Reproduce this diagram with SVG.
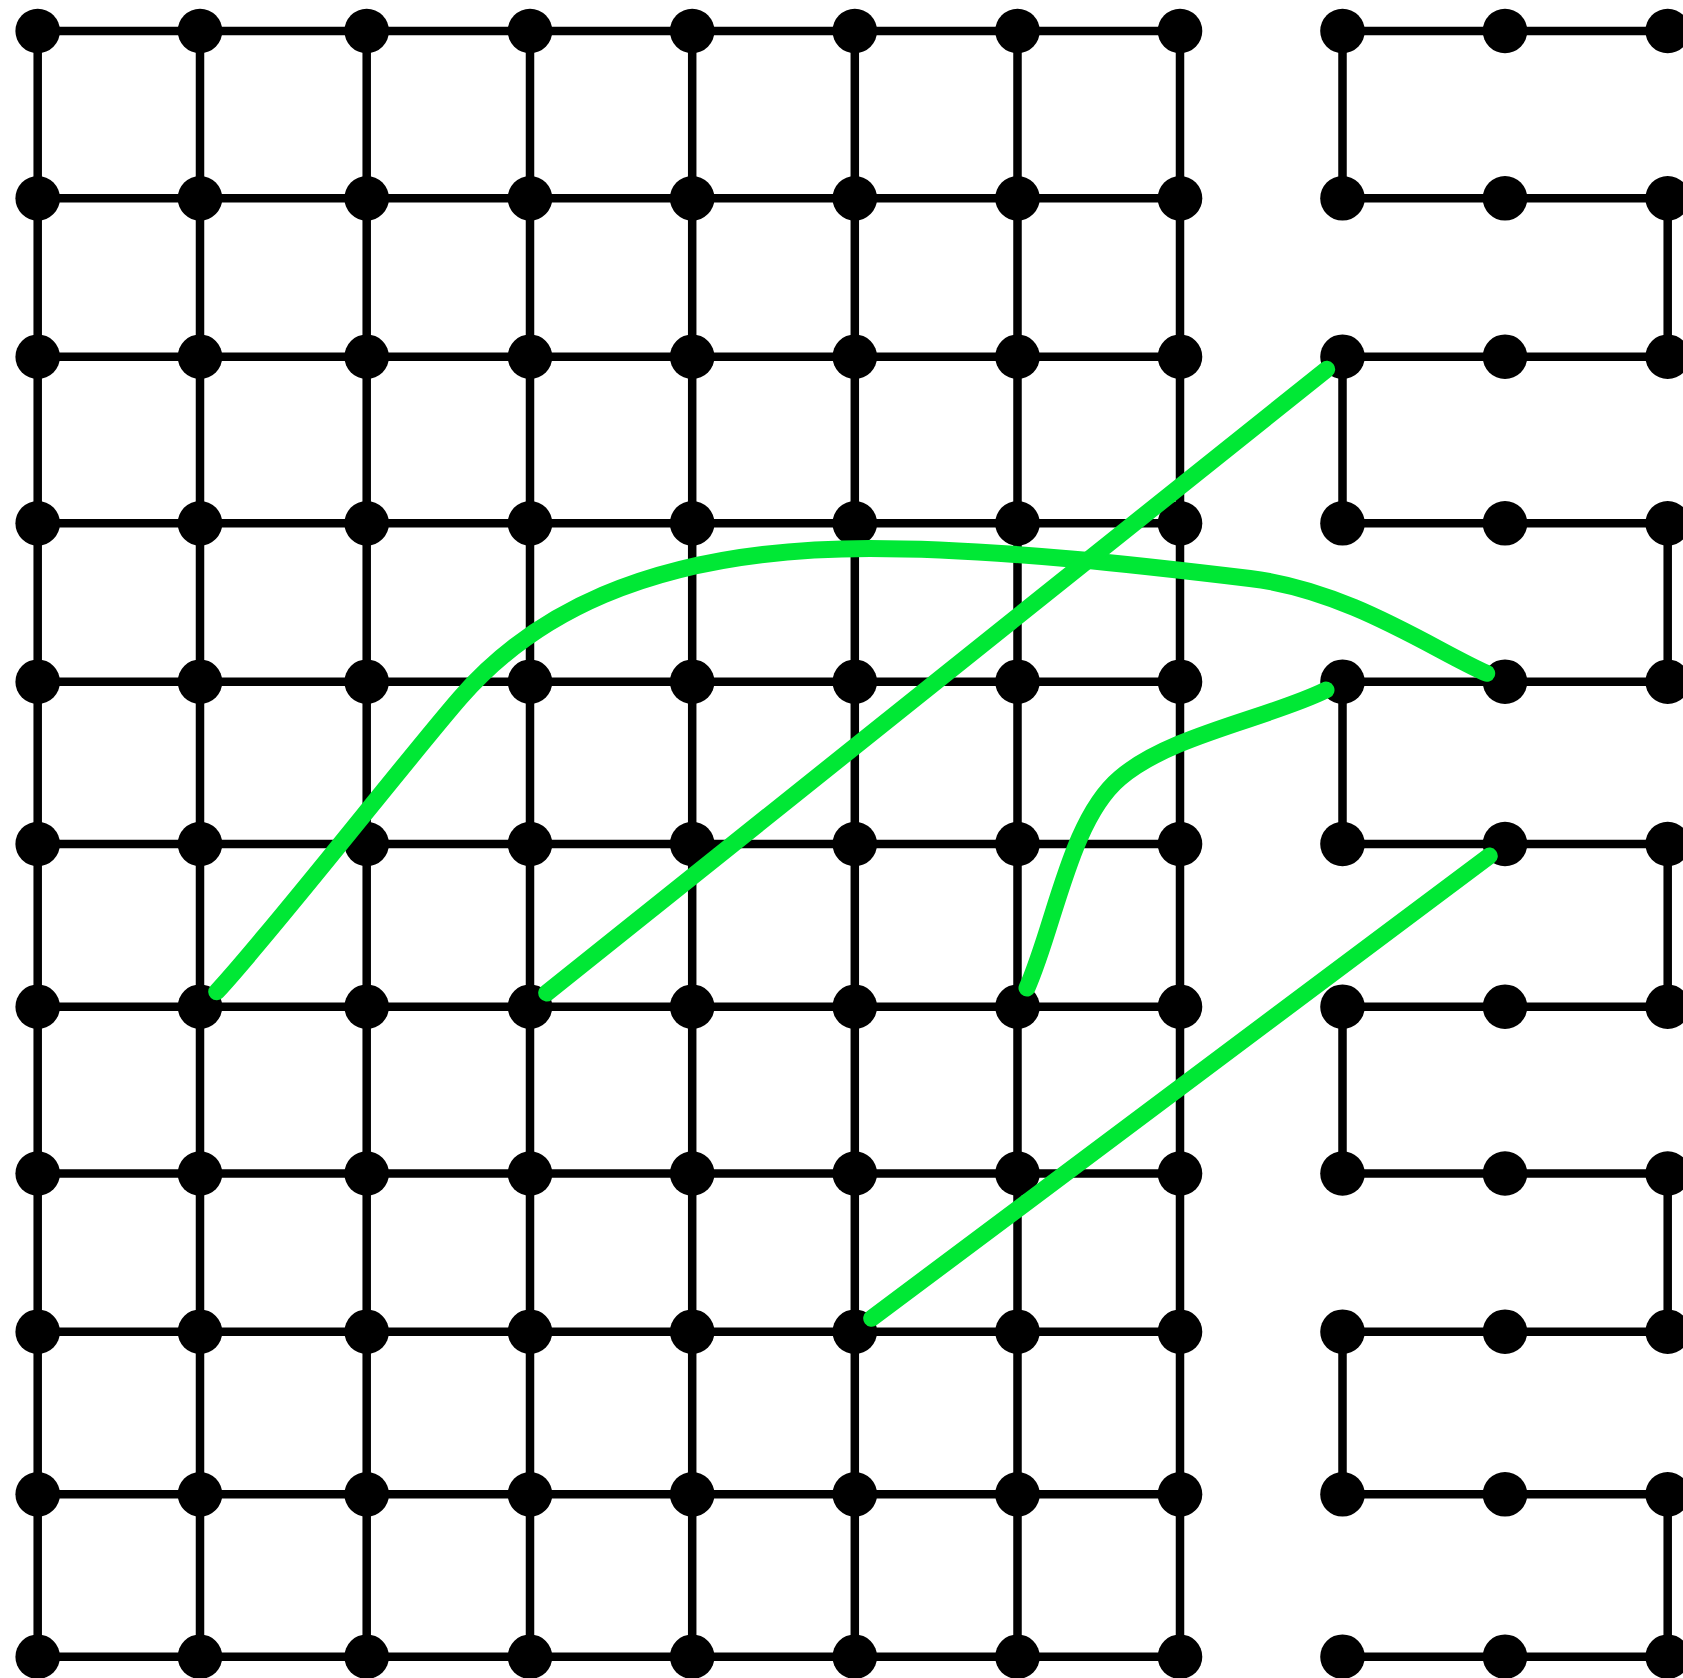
<svg xmlns="http://www.w3.org/2000/svg" width="1683" height="1678" viewBox="0 0 1683 1678">
<style>
.e{stroke:#000;stroke-width:8.5;fill:none}
.n{fill:#000}
.g{stroke:#00e835;stroke-width:17;fill:none;stroke-linecap:round;stroke-linejoin:round}
</style>
<rect width="1683" height="1678" fill="#fff"/>
<g id="connectors">
<g id="grid-edges" class="e">
<path d="M37.7 31H200M200 31H366.7M366.7 31H530M530 31H692.2M692.2 31H854.8M854.8 31H1017.5M1017.5 31H1180M1342.5 31H1505M1505 31H1667.7"/>
<path d="M37.7 198.3H200M200 198.3H366.7M366.7 198.3H530M530 198.3H692.2M692.2 198.3H854.8M854.8 198.3H1017.5M1017.5 198.3H1180M1342.5 198.3H1505M1505 198.3H1667.7"/>
<path d="M37.7 356.7H200M200 356.7H366.7M366.7 356.7H530M530 356.7H692.2M692.2 356.7H854.8M854.8 356.7H1017.5M1017.5 356.7H1180M1342.5 356.7H1505M1505 356.7H1667.7"/>
<path d="M37.7 523.3H200M200 523.3H366.7M366.7 523.3H530M530 523.3H692.2M692.2 523.3H854.8M854.8 523.3H1017.5M1017.5 523.3H1180M1342.5 523.3H1505M1505 523.3H1667.7"/>
<path d="M37.7 681.7H200M200 681.7H366.7M366.7 681.7H530M530 681.7H692.2M692.2 681.7H854.8M854.8 681.7H1017.5M1017.5 681.7H1180M1342.5 681.7H1505M1505 681.7H1667.7"/>
<path d="M37.7 844H200M200 844H366.7M366.7 844H530M530 844H692.2M692.2 844H854.8M854.8 844H1017.5M1017.5 844H1180M1342.5 844H1505M1505 844H1667.7"/>
<path d="M37.7 1006.7H200M200 1006.7H366.7M366.7 1006.7H530M530 1006.7H692.2M692.2 1006.7H854.8M854.8 1006.7H1017.5M1017.5 1006.7H1180M1342.5 1006.7H1505M1505 1006.7H1667.7"/>
<path d="M37.7 1173.5H200M200 1173.5H366.7M366.7 1173.5H530M530 1173.5H692.2M692.2 1173.5H854.8M854.8 1173.5H1017.5M1017.5 1173.5H1180M1342.5 1173.5H1505M1505 1173.5H1667.7"/>
<path d="M37.7 1331.7H200M200 1331.7H366.7M366.7 1331.7H530M530 1331.7H692.2M692.2 1331.7H854.8M854.8 1331.7H1017.5M1017.5 1331.7H1180M1342.5 1331.7H1505M1505 1331.7H1667.7"/>
<path d="M37.7 1494.3H200M200 1494.3H366.7M366.7 1494.3H530M530 1494.3H692.2M692.2 1494.3H854.8M854.8 1494.3H1017.5M1017.5 1494.3H1180M1342.5 1494.3H1505M1505 1494.3H1667.7"/>
<path d="M37.7 1656.7H200M200 1656.7H366.7M366.7 1656.7H530M530 1656.7H692.2M692.2 1656.7H854.8M854.8 1656.7H1017.5M1017.5 1656.7H1180M1342.5 1656.7H1505M1505 1656.7H1667.7"/>
<path d="M37.7 31V198.3M37.7 198.3V356.7M37.7 356.7V523.3M37.7 523.3V681.7M37.7 681.7V844M37.7 844V1006.7M37.7 1006.7V1173.5M37.7 1173.5V1331.7M37.7 1331.7V1494.3M37.7 1494.3V1656.7"/>
<path d="M200 31V198.3M200 198.3V356.7M200 356.7V523.3M200 523.3V681.7M200 681.7V844M200 844V1006.7M200 1006.7V1173.5M200 1173.5V1331.7M200 1331.7V1494.3M200 1494.3V1656.7"/>
<path d="M366.7 31V198.3M366.7 198.3V356.7M366.7 356.7V523.3M366.7 523.3V681.7M366.7 681.7V844M366.7 844V1006.7M366.7 1006.7V1173.5M366.7 1173.5V1331.7M366.7 1331.7V1494.3M366.7 1494.3V1656.7"/>
<path d="M530 31V198.3M530 198.3V356.7M530 356.7V523.3M530 523.3V681.7M530 681.7V844M530 844V1006.7M530 1006.7V1173.5M530 1173.5V1331.7M530 1331.7V1494.3M530 1494.3V1656.7"/>
<path d="M692.2 31V198.3M692.2 198.3V356.7M692.2 356.7V523.3M692.2 523.3V681.7M692.2 681.7V844M692.2 844V1006.7M692.2 1006.7V1173.5M692.2 1173.5V1331.7M692.2 1331.7V1494.3M692.2 1494.3V1656.7"/>
<path d="M854.8 31V198.3M854.8 198.3V356.7M854.8 356.7V523.3M854.8 523.3V681.7M854.8 681.7V844M854.8 844V1006.7M854.8 1006.7V1173.5M854.8 1173.5V1331.7M854.8 1331.7V1494.3M854.8 1494.3V1656.7"/>
<path d="M1017.5 31V198.3M1017.5 198.3V356.7M1017.5 356.7V523.3M1017.5 523.3V681.7M1017.5 681.7V844M1017.5 844V1006.7M1017.5 1006.7V1173.5M1017.5 1173.5V1331.7M1017.5 1331.7V1494.3M1017.5 1494.3V1656.7"/>
<path d="M1180 31V198.3M1180 198.3V356.7M1180 356.7V523.3M1180 523.3V681.7M1180 681.7V844M1180 844V1006.7M1180 1006.7V1173.5M1180 1173.5V1331.7M1180 1331.7V1494.3M1180 1494.3V1656.7"/>
<path d="M1342.5 31V198.3M1342.5 356.7V523.3M1342.5 681.7V844M1342.5 1006.7V1173.5M1342.5 1331.7V1494.3"/>
<path d="M1667.7 198.3V356.7M1667.7 523.3V681.7M1667.7 844V1006.7M1667.7 1173.5V1331.7M1667.7 1494.3V1656.7"/>
</g>
</g>
<g id="nodes" class="n">
<g id="n0_0"><circle cx="37.7" cy="31" r="22.3"/></g><g id="n0_1"><circle cx="200" cy="31" r="22.3"/></g><g id="n0_2"><circle cx="366.7" cy="31" r="22.3"/></g><g id="n0_3"><circle cx="530" cy="31" r="22.3"/></g><g id="n0_4"><circle cx="692.2" cy="31" r="22.3"/></g><g id="n0_5"><circle cx="854.8" cy="31" r="22.3"/></g><g id="n0_6"><circle cx="1017.5" cy="31" r="22.3"/></g><g id="n0_7"><circle cx="1180" cy="31" r="22.3"/></g><g id="n0_8"><circle cx="1342.5" cy="31" r="22.3"/></g><g id="n0_9"><circle cx="1505" cy="31" r="22.3"/></g><g id="n0_10"><circle cx="1667.7" cy="31" r="22.3"/></g>
<g id="n1_0"><circle cx="37.7" cy="198.3" r="22.3"/></g><g id="n1_1"><circle cx="200" cy="198.3" r="22.3"/></g><g id="n1_2"><circle cx="366.7" cy="198.3" r="22.3"/></g><g id="n1_3"><circle cx="530" cy="198.3" r="22.3"/></g><g id="n1_4"><circle cx="692.2" cy="198.3" r="22.3"/></g><g id="n1_5"><circle cx="854.8" cy="198.3" r="22.3"/></g><g id="n1_6"><circle cx="1017.5" cy="198.3" r="22.3"/></g><g id="n1_7"><circle cx="1180" cy="198.3" r="22.3"/></g><g id="n1_8"><circle cx="1342.5" cy="198.3" r="22.3"/></g><g id="n1_9"><circle cx="1505" cy="198.3" r="22.3"/></g><g id="n1_10"><circle cx="1667.7" cy="198.3" r="22.3"/></g>
<g id="n2_0"><circle cx="37.7" cy="356.7" r="22.3"/></g><g id="n2_1"><circle cx="200" cy="356.7" r="22.3"/></g><g id="n2_2"><circle cx="366.7" cy="356.7" r="22.3"/></g><g id="n2_3"><circle cx="530" cy="356.7" r="22.3"/></g><g id="n2_4"><circle cx="692.2" cy="356.7" r="22.3"/></g><g id="n2_5"><circle cx="854.8" cy="356.7" r="22.3"/></g><g id="n2_6"><circle cx="1017.5" cy="356.7" r="22.3"/></g><g id="n2_7"><circle cx="1180" cy="356.7" r="22.3"/></g><g id="n2_8"><circle cx="1342.5" cy="356.7" r="22.3"/></g><g id="n2_9"><circle cx="1505" cy="356.7" r="22.3"/></g><g id="n2_10"><circle cx="1667.7" cy="356.7" r="22.3"/></g>
<g id="n3_0"><circle cx="37.7" cy="523.3" r="22.3"/></g><g id="n3_1"><circle cx="200" cy="523.3" r="22.3"/></g><g id="n3_2"><circle cx="366.7" cy="523.3" r="22.3"/></g><g id="n3_3"><circle cx="530" cy="523.3" r="22.3"/></g><g id="n3_4"><circle cx="692.2" cy="523.3" r="22.3"/></g><g id="n3_5"><circle cx="854.8" cy="523.3" r="22.3"/></g><g id="n3_6"><circle cx="1017.5" cy="523.3" r="22.3"/></g><g id="n3_7"><circle cx="1180" cy="523.3" r="22.3"/></g><g id="n3_8"><circle cx="1342.5" cy="523.3" r="22.3"/></g><g id="n3_9"><circle cx="1505" cy="523.3" r="22.3"/></g><g id="n3_10"><circle cx="1667.7" cy="523.3" r="22.3"/></g>
<g id="n4_0"><circle cx="37.7" cy="681.7" r="22.3"/></g><g id="n4_1"><circle cx="200" cy="681.7" r="22.3"/></g><g id="n4_2"><circle cx="366.7" cy="681.7" r="22.3"/></g><g id="n4_3"><circle cx="530" cy="681.7" r="22.3"/></g><g id="n4_4"><circle cx="692.2" cy="681.7" r="22.3"/></g><g id="n4_5"><circle cx="854.8" cy="681.7" r="22.3"/></g><g id="n4_6"><circle cx="1017.5" cy="681.7" r="22.3"/></g><g id="n4_7"><circle cx="1180" cy="681.7" r="22.3"/></g><g id="n4_8"><circle cx="1342.5" cy="681.7" r="22.3"/></g><g id="n4_9"><circle cx="1505" cy="681.7" r="22.3"/></g><g id="n4_10"><circle cx="1667.7" cy="681.7" r="22.3"/></g>
<g id="n5_0"><circle cx="37.7" cy="844" r="22.3"/></g><g id="n5_1"><circle cx="200" cy="844" r="22.3"/></g><g id="n5_2"><circle cx="366.7" cy="844" r="22.3"/></g><g id="n5_3"><circle cx="530" cy="844" r="22.3"/></g><g id="n5_4"><circle cx="692.2" cy="844" r="22.3"/></g><g id="n5_5"><circle cx="854.8" cy="844" r="22.3"/></g><g id="n5_6"><circle cx="1017.5" cy="844" r="22.3"/></g><g id="n5_7"><circle cx="1180" cy="844" r="22.3"/></g><g id="n5_8"><circle cx="1342.5" cy="844" r="22.3"/></g><g id="n5_9"><circle cx="1505" cy="844" r="22.3"/></g><g id="n5_10"><circle cx="1667.7" cy="844" r="22.3"/></g>
<g id="n6_0"><circle cx="37.7" cy="1006.7" r="22.3"/></g><g id="n6_1"><circle cx="200" cy="1006.7" r="22.3"/></g><g id="n6_2"><circle cx="366.7" cy="1006.7" r="22.3"/></g><g id="n6_3"><circle cx="530" cy="1006.7" r="22.3"/></g><g id="n6_4"><circle cx="692.2" cy="1006.7" r="22.3"/></g><g id="n6_5"><circle cx="854.8" cy="1006.7" r="22.3"/></g><g id="n6_6"><circle cx="1017.5" cy="1006.7" r="22.3"/></g><g id="n6_7"><circle cx="1180" cy="1006.7" r="22.3"/></g><g id="n6_8"><circle cx="1342.5" cy="1006.7" r="22.3"/></g><g id="n6_9"><circle cx="1505" cy="1006.7" r="22.3"/></g><g id="n6_10"><circle cx="1667.7" cy="1006.7" r="22.3"/></g>
<g id="n7_0"><circle cx="37.7" cy="1173.5" r="22.3"/></g><g id="n7_1"><circle cx="200" cy="1173.5" r="22.3"/></g><g id="n7_2"><circle cx="366.7" cy="1173.5" r="22.3"/></g><g id="n7_3"><circle cx="530" cy="1173.5" r="22.3"/></g><g id="n7_4"><circle cx="692.2" cy="1173.5" r="22.3"/></g><g id="n7_5"><circle cx="854.8" cy="1173.5" r="22.3"/></g><g id="n7_6"><circle cx="1017.5" cy="1173.5" r="22.3"/></g><g id="n7_7"><circle cx="1180" cy="1173.5" r="22.3"/></g><g id="n7_8"><circle cx="1342.5" cy="1173.5" r="22.3"/></g><g id="n7_9"><circle cx="1505" cy="1173.5" r="22.3"/></g><g id="n7_10"><circle cx="1667.7" cy="1173.5" r="22.3"/></g>
<g id="n8_0"><circle cx="37.7" cy="1331.7" r="22.3"/></g><g id="n8_1"><circle cx="200" cy="1331.7" r="22.3"/></g><g id="n8_2"><circle cx="366.7" cy="1331.7" r="22.3"/></g><g id="n8_3"><circle cx="530" cy="1331.7" r="22.3"/></g><g id="n8_4"><circle cx="692.2" cy="1331.7" r="22.3"/></g><g id="n8_5"><circle cx="854.8" cy="1331.7" r="22.3"/></g><g id="n8_6"><circle cx="1017.5" cy="1331.7" r="22.3"/></g><g id="n8_7"><circle cx="1180" cy="1331.7" r="22.3"/></g><g id="n8_8"><circle cx="1342.5" cy="1331.7" r="22.3"/></g><g id="n8_9"><circle cx="1505" cy="1331.7" r="22.3"/></g><g id="n8_10"><circle cx="1667.7" cy="1331.7" r="22.3"/></g>
<g id="n9_0"><circle cx="37.7" cy="1494.3" r="22.3"/></g><g id="n9_1"><circle cx="200" cy="1494.3" r="22.3"/></g><g id="n9_2"><circle cx="366.7" cy="1494.3" r="22.3"/></g><g id="n9_3"><circle cx="530" cy="1494.3" r="22.3"/></g><g id="n9_4"><circle cx="692.2" cy="1494.3" r="22.3"/></g><g id="n9_5"><circle cx="854.8" cy="1494.3" r="22.3"/></g><g id="n9_6"><circle cx="1017.5" cy="1494.3" r="22.3"/></g><g id="n9_7"><circle cx="1180" cy="1494.3" r="22.3"/></g><g id="n9_8"><circle cx="1342.5" cy="1494.3" r="22.3"/></g><g id="n9_9"><circle cx="1505" cy="1494.3" r="22.3"/></g><g id="n9_10"><circle cx="1667.7" cy="1494.3" r="22.3"/></g>
<g id="n10_0"><circle cx="37.7" cy="1656.7" r="22.3"/></g><g id="n10_1"><circle cx="200" cy="1656.7" r="22.3"/></g><g id="n10_2"><circle cx="366.7" cy="1656.7" r="22.3"/></g><g id="n10_3"><circle cx="530" cy="1656.7" r="22.3"/></g><g id="n10_4"><circle cx="692.2" cy="1656.7" r="22.3"/></g><g id="n10_5"><circle cx="854.8" cy="1656.7" r="22.3"/></g><g id="n10_6"><circle cx="1017.5" cy="1656.7" r="22.3"/></g><g id="n10_7"><circle cx="1180" cy="1656.7" r="22.3"/></g><g id="n10_8"><circle cx="1342.5" cy="1656.7" r="22.3"/></g><g id="n10_9"><circle cx="1505" cy="1656.7" r="22.3"/></g><g id="n10_10"><circle cx="1667.7" cy="1656.7" r="22.3"/></g>
</g>
<g id="green-connectors" class="g">
<path id="g1" d="M216.7 991.7C271.1 933.3 407.5 758.4 460 698C525.6 622.5 640 548.5 870 548.5C1000 548.5 1150 566.5 1250 578.5C1350 590.5 1436.7 651.8 1486.7 673.3"/>
<path id="g2" d="M546.7 993L1326.7 369.3"/>
<path id="g3" d="M1027 988C1055 925 1070 820 1120 778C1170 735 1270 718 1326 690"/>
<path id="g4" d="M871.7 1318.3L1489.3 856"/>
</g>
</svg>
